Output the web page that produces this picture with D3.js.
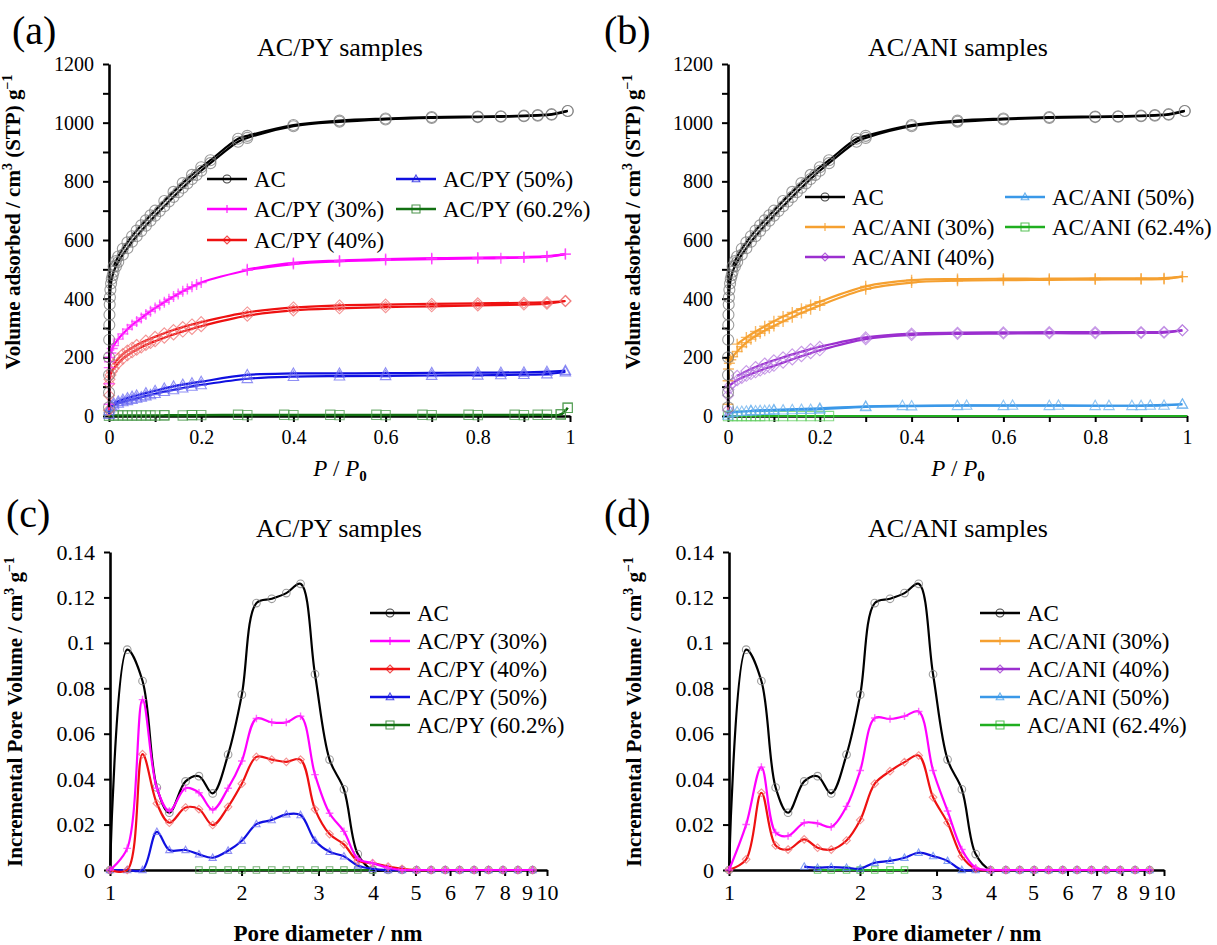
<!DOCTYPE html>
<html>
<head>
<meta charset="utf-8">
<script src="https://cdn.jsdelivr.net/npm/d3@7"></script>
<style>
  body { margin: 0; background: #fff; }
  svg { display: block; }
  svg text, svg tspan { font-family: 'Liberation Serif' !important; }
</style>
</head>
<body>
<script>
// ---------------- N2 isotherms: [P/P0, volume adsorbed] ----------------
const acAds = [[0.00002,30],[0.00005,80],[0.0001,140],[0.0002,200],[0.0004,260],[0.0007,310],[0.001,345],[0.0015,380],[0.002,405],[0.003,430],[0.0045,452],[0.006,468],[0.008,480],[0.01,492],[0.015,510],[0.02,525],[0.03,550],[0.04,572],[0.05,594],[0.06,613],[0.07,631],[0.08,649],[0.09,666],[0.1,683],[0.11,699],[0.12,715],[0.13,731],[0.14,747],[0.15,763],[0.16,778],[0.17,793],[0.18,808],[0.19,822],[0.2,836],[0.22,862],[0.28,935],[0.3,948],[0.4,988],[0.5,1003],[0.6,1011],[0.7,1016],[0.8,1019],[0.85,1020],[0.9,1022],[0.93,1024],[0.96,1027],[0.995,1040]];
const acDes = [[0.995,1040],[0.96,1029],[0.93,1026],[0.9,1024],[0.85,1022],[0.8,1021],[0.7,1019],[0.6,1014],[0.5,1007],[0.4,992],[0.3,955],[0.28,945],[0.22,872],[0.2,848],[0.18,822],[0.16,794],[0.14,764],[0.12,733],[0.1,700],[0.09,684],[0.08,667],[0.07,650],[0.06,632],[0.05,613],[0.04,592],[0.03,570],[0.02,544],[0.015,528],[0.01,510]];

const py30Ads = [[0.00002,40],[0.0001,110],[0.0005,165],[0.001,185],[0.002,200],[0.004,215],[0.007,230],[0.01,240],[0.02,262],[0.03,280],[0.04,296],[0.05,310],[0.06,322],[0.07,334],[0.08,346],[0.09,357],[0.1,368],[0.11,378],[0.12,388],[0.13,398],[0.14,407],[0.15,416],[0.16,425],[0.17,433],[0.18,441],[0.19,448],[0.2,455],[0.3,497],[0.4,518],[0.5,527],[0.6,532],[0.7,535],[0.8,537],[0.85,538],[0.9,540],[0.95,543],[0.99,552]];
const py30Des = [[0.99,552],[0.95,545],[0.9,542],[0.8,540],[0.7,538],[0.6,535],[0.5,530],[0.4,522],[0.3,500]];

const py40Ads = [[0.00002,20],[0.0001,70],[0.0005,110],[0.001,125],[0.003,140],[0.006,152],[0.01,162],[0.02,180],[0.03,195],[0.04,207],[0.05,217],[0.06,226],[0.07,234],[0.08,242],[0.09,249],[0.1,255],[0.12,267],[0.14,278],[0.16,288],[0.18,297],[0.2,306],[0.3,342],[0.4,360],[0.5,367],[0.6,371],[0.7,374],[0.8,377],[0.9,380],[0.95,383],[0.99,392]];
const py40Des = [[0.99,392],[0.95,388],[0.9,386],[0.8,384],[0.7,382],[0.6,380],[0.5,377],[0.4,370],[0.3,353],[0.2,320],[0.18,312],[0.16,303],[0.14,293],[0.12,282],[0.1,270],[0.08,257],[0.06,242],[0.05,233],[0.04,223],[0.03,211],[0.02,196],[0.01,176]];

const py50Ads = [[0.00002,5],[0.0002,18],[0.001,26],[0.005,33],[0.01,37],[0.02,43],[0.03,48],[0.04,52],[0.05,56],[0.06,60],[0.07,64],[0.08,68],[0.09,72],[0.1,76],[0.12,83],[0.14,89],[0.16,95],[0.18,101],[0.2,106],[0.3,127],[0.4,134],[0.5,136],[0.6,137],[0.7,138],[0.8,139],[0.85,140],[0.9,141],[0.95,143],[0.99,150]];
const py50Des = [[0.99,155],[0.95,151],[0.9,149],[0.85,148],[0.8,148],[0.7,147],[0.6,146],[0.5,145],[0.4,145],[0.3,140],[0.2,117],[0.18,112],[0.16,107],[0.14,101],[0.12,94],[0.1,86],[0.08,78],[0.06,70],[0.05,66],[0.04,61],[0.03,56],[0.02,50],[0.01,44]];

const py60Ads = [[0.0001,1],[0.01,2],[0.02,2],[0.03,2],[0.04,2],[0.05,2],[0.06,2],[0.07,2],[0.08,2],[0.09,2],[0.1,2],[0.12,2],[0.16,2],[0.18,3],[0.2,3],[0.3,3],[0.4,3],[0.5,3],[0.6,3],[0.7,3],[0.8,3],[0.9,3],[0.95,4],[0.98,5],[0.995,28]];
const py60Des = [[0.995,28],[0.98,6],[0.93,4],[0.88,4],[0.78,4],[0.68,4],[0.58,4],[0.48,4],[0.38,4],[0.28,4],[0.18,3],[0.12,3]];

const ani30Ads = [[0.00002,40],[0.0002,120],[0.001,160],[0.003,180],[0.006,192],[0.01,202],[0.02,220],[0.03,236],[0.04,250],[0.05,262],[0.06,272],[0.07,282],[0.08,291],[0.09,299],[0.1,307],[0.12,322],[0.14,337],[0.16,351],[0.18,364],[0.2,377],[0.3,432],[0.4,455],[0.5,461],[0.6,463],[0.7,464],[0.8,465],[0.9,466],[0.95,467],[0.99,475]];
const ani30Des = [[0.99,475],[0.95,470],[0.9,469],[0.8,469],[0.7,468],[0.6,468],[0.5,467],[0.4,463],[0.3,442],[0.2,390],[0.18,378],[0.16,366],[0.14,353],[0.12,339],[0.1,323],[0.08,306],[0.06,288],[0.04,268],[0.02,245]];

const ani40Ads = [[0.00002,20],[0.0002,70],[0.001,90],[0.005,105],[0.01,112],[0.02,122],[0.03,130],[0.04,137],[0.05,143],[0.06,149],[0.07,155],[0.08,161],[0.09,166],[0.1,171],[0.12,182],[0.14,193],[0.16,204],[0.18,214],[0.2,224],[0.3,262],[0.4,276],[0.5,280],[0.6,281],[0.7,282],[0.8,282],[0.9,283],[0.95,284],[0.99,292]];
const ani40Des = [[0.99,292],[0.95,287],[0.9,286],[0.8,286],[0.7,286],[0.6,285],[0.5,284],[0.4,281],[0.3,268],[0.2,236],[0.18,228],[0.16,219],[0.14,210],[0.12,200],[0.1,190],[0.08,179],[0.06,167],[0.04,153],[0.02,137]];

const ani50Ads = [[0.00002,2],[0.001,8],[0.01,12],[0.02,14],[0.03,15],[0.04,16],[0.05,17],[0.06,17],[0.07,18],[0.08,18],[0.09,19],[0.1,19],[0.12,20],[0.14,21],[0.16,22],[0.18,22],[0.2,23],[0.3,31],[0.4,34],[0.5,35],[0.6,35],[0.7,35],[0.8,35],[0.9,35],[0.95,36],[0.99,40]];
const ani50Des = [[0.99,40],[0.92,36],[0.88,35],[0.83,35],[0.72,36],[0.62,36],[0.52,36],[0.38,35],[0.3,33],[0.2,26],[0.1,21],[0.05,18]];

const ani62Ads = [[0.0001,0],[0.01,0],[0.02,0],[0.03,0],[0.04,0],[0.05,0],[0.06,0],[0.07,0],[0.08,0],[0.1,0],[0.12,0],[0.14,0],[0.16,0],[0.18,0],[0.2,0],[0.22,0],[0.4,0],[0.6,0],[0.8,0],[1.0,0]];
const ani62Des = [];

// ---------------- Pore size distributions ----------------
const poreDiameters = [1.0,1.095,1.187,1.28,1.367,1.489,1.598,1.718,1.863,2.003,2.163,2.345,2.532,2.729,2.945,3.18,3.43,3.69,3.99,4.33,4.66,5.03,5.43,5.85,6.31,6.81,7.35,7.93,8.58,9.27];
const psdAC    = [0,0.097,0.0832,0.0363,0.0252,0.039,0.0413,0.0337,0.0508,0.0772,0.1175,0.1194,0.1219,0.126,0.0862,0.0486,0.0355,0.007,0,0,0,0,0,0,0,0,0,0,0,0];
const psdPY30  = [0,0.0095,0.075,0.036,0.026,0.036,0.034,0.0265,0.036,0.048,0.0667,0.065,0.065,0.0677,0.042,0.025,0.017,0.005,0.003,0.001,0,0,0,0,0,0,0,0,0,0];
const psdPY40  = [0,0,0.051,0.0293,0.0208,0.0275,0.0268,0.0198,0.0278,0.038,0.0498,0.0486,0.0476,0.0486,0.0267,0.0158,0.0113,0.004,0.003,0.0015,0.0005,0,0,0,0,0,0,0,0,0];
const psdPY50  = [0,0,0,0.0168,0.0088,0.0088,0.0069,0.0054,0.0085,0.0129,0.0202,0.022,0.0245,0.0242,0.013,0.008,0.006,0.002,0.0005,0,0,0,0,0,0,0,0,0,0,0];
const psdPY60  = [null,null,null,null,null,null,0,0,0,0,0,0,0,0,0,0,0,0,0,null,null,null,null,null,null,null,null,null,null,null];
const psdANI30 = [0,0.02,0.0453,0.0165,0.015,0.0208,0.0205,0.019,0.028,0.0438,0.0669,0.0665,0.0677,0.0698,0.0438,0.026,0.009,0.001,0,0,0,0,0,0,0,0,0,0,0,0];
const psdANI40 = [0,0.0047,0.034,0.0108,0.009,0.0135,0.0098,0.009,0.013,0.022,0.038,0.0435,0.0475,0.0504,0.032,0.0208,0.006,0.0005,0,0,0,0,0,0,0,0,0,0,0,0];
const psdANI50 = [null,null,null,null,null,0.0015,0.001,0.0013,0.001,0.0006,0.0032,0.004,0.0054,0.0076,0.0061,0.004,0,0,0,0,0,0,0,0,0,0,0,0,0,0];
const psdANI62 = [null,null,null,null,null,null,0,0,0,0,0,0,0,null,null,null,null,null,null,null,null,null,null,null,null,null,null,null,null,null];

// ---------------- Axis ticks ----------------
const isoXTicks = [0,0.1,0.2,0.3,0.4,0.5,0.6,0.7,0.8,0.9,1];
const isoXLabels = ["0","","0.2","","0.4","","0.6","","0.8","","1"];
const isoYTicks = [0,100,200,300,400,500,600,700,800,900,1000,1100,1200];
const isoYLabels = ["0","","200","","400","","600","","800","","1000","","1200"];
const psdXTicks = [1,2,3,4,5,6,7,8,9,10];
const psdXLabels = ["1","2","3","4","5","6","7","8","9","10"];
const psdYTicks = [0,0.02,0.04,0.06,0.08,0.1,0.12,0.14];
const psdYLabels = ["0","0.02","0.04","0.06","0.08","0.1","0.12","0.14"];

// ---------------- Series names ----------------
const pyNames  = ["AC","AC/PY (30%)","AC/PY (40%)","AC/PY (50%)","AC/PY (60.2%)"];
const aniNames = ["AC","AC/ANI (30%)","AC/ANI (40%)","AC/ANI (50%)","AC/ANI (62.4%)"];

// ---------------- Drawing ----------------
const FONT_STYLE = "font-family:'Liberation Serif'";
const W = 1217, H = 945;
const svg = d3.select("body").append("svg")
  .attr("width", W).attr("height", H).attr("viewBox", `0 0 ${W} ${H}`)
  .attr("style", FONT_STYLE);

function txt(x, y, size) {
  return svg.append("text").attr("x", x).attr("y", y)
    .attr("style", FONT_STYLE).attr("font-size", size).attr("fill", "#000");
}

function markerPath(shape, s) {
  switch (shape) {
    case "circle":   return `M${s},0A${s},${s} 0 1,1 ${-s},0A${s},${s} 0 1,1 ${s},0Z`;
    case "diamond":  return `M0,${-s}L${s},0L0,${s}L${-s},0Z`;
    case "triangle": return `M0,${-s}L${s*0.95},${s*0.7}L${-s*0.95},${s*0.7}Z`;
    case "square":   return `M${-s},${-s}H${s}V${s}H${-s}Z`;
    case "plus":     return `M${-s},0H${s}M0,${-s}V${s}`;
  }
}

function drawMarkers(g, pts, st, size) {
  g.selectAll(null).data(pts).enter().append("path")
    .attr("transform", d => `translate(${d[0]},${d[1]})`)
    .attr("d", markerPath(st.shape, size * (st.scale || 1)))
    .attr("fill", "none")
    .attr("stroke", st.mcolor)
    .attr("stroke-width", st.shape === "plus" ? 1.4 : 1.1)
    .attr("stroke-opacity", 0.75);
}

function panelLetter(x, y, s) { txt(x, y, 40).text(s); }
function panelTitle(x, y, s) { txt(x, y, 26).attr("text-anchor", "middle").text(s); }

function yLabel(cx, cy, main, mid) {
  const t = svg.append("text")
    .attr("transform", `translate(${cx},${cy}) rotate(-90)`)
    .attr("style", FONT_STYLE)
    .attr("text-anchor", "middle").attr("font-weight", "bold").attr("font-size", 21);
  t.append("tspan").text(main);
  t.append("tspan").attr("dy", -8).attr("font-size", 14).text("3");
  t.append("tspan").attr("dy", 8).text(mid);
  t.append("tspan").attr("dy", -8).attr("font-size", 14).text("\u22121");
}

function ppLabel(x, y) {
  const t = txt(x, y, 23).attr("text-anchor", "middle");
  t.append("tspan").attr("font-style", "italic").text("P");
  t.append("tspan").text(" / ");
  t.append("tspan").attr("font-style", "italic").text("P");
  t.append("tspan").attr("dy", 5).attr("font-size", 15).attr("font-weight", "bold").text("0");
}

function axes(g, x, y, xt, xl, yt, yl, fs) {
  const ax = g.append("g").attr("transform", `translate(0,${y.range()[0]})`)
    .call(d3.axisBottom(x).tickValues(xt).tickFormat((d, i) => xl[i]).tickSize(6).tickSizeOuter(0).tickPadding(8));
  const ay = g.append("g").attr("transform", `translate(${x.range()[0]},0)`)
    .call(d3.axisLeft(y).tickValues(yt).tickFormat((d, i) => yl[i]).tickSize(6).tickSizeOuter(0).tickPadding(9));
  [ax, ay].forEach(a => {
    a.attr("font-family", null).attr("style", FONT_STYLE).attr("font-size", fs);
    a.select(".domain").attr("stroke", "#000").attr("stroke-width", 2.6);
    a.selectAll(".tick line").attr("stroke", "#000").attr("stroke-width", 2);
    a.selectAll(".tick text").attr("style", FONT_STYLE).attr("font-size", fs).attr("fill", "#000");
  });
}

function legend(items, fs) {
  items.forEach(it => {
    const g = svg.append("g");
    g.append("line").attr("x1", it.x).attr("x2", it.x + 40).attr("y1", it.y).attr("y2", it.y)
      .attr("stroke", it.st.lcolor).attr("stroke-width", 2.5);
    drawMarkers(g, [[it.x + 20, it.y]], { shape: it.st.shape, mcolor: it.st.legendMarker || it.st.lcolor }, 4);
    g.append("text").attr("x", it.x + 47).attr("y", it.y).attr("dy", "0.35em")
      .attr("style", FONT_STYLE).attr("font-size", fs).attr("fill", "#000").text(it.name);
  });
}

// ---- isotherm panel ----
function isoPanel(box, series) {
  const x = d3.scaleLinear().domain([0, 1]).range([box.x0, box.x1]);
  const y = d3.scaleLinear().domain([0, 1200]).range([box.y0, box.y1]);
  const g = svg.append("g");
  axes(g, x, y, isoXTicks, isoXLabels, isoYTicks, isoYLabels, 20);
  const line = d3.line().x(d => x(d[0])).y(d => y(d[1])).curve(d3.curveCatmullRom.alpha(0.5));
  series.forEach(s => {
    const sg = g.append("g");
    [s.ads, s.des].forEach(br => {
      if (!br.length) return;
      sg.append("path").attr("d", line(br)).attr("fill", "none")
        .attr("stroke", s.st.lcolor).attr("stroke-width", 2.2);
    });
    const pts = (s.markAds || s.ads).concat(s.des).map(d => [x(d[0]), y(d[1])]);
    drawMarkers(sg, pts, s.st, 5.5);
  });
}

// ---- pore size distribution panel ----
function psdPanel(box, series) {
  const x = d3.scaleLog().domain([1, 10]).range([box.x0, box.x1]);
  const y = d3.scaleLinear().domain([0, 0.14]).range([box.y0, box.y1]);
  const g = svg.append("g");
  axes(g, x, y, psdXTicks, psdXLabels, psdYTicks, psdYLabels, 22);
  const line = d3.line().defined(d => d[1] !== null)
    .x(d => x(d[0])).y(d => y(d[1])).curve(d3.curveCatmullRom.alpha(0.5));
  series.forEach(s => {
    const data = poreDiameters.map((d, i) => [d, s.v[i]]);
    const sg = g.append("g");
    sg.append("path").attr("d", line(data)).attr("fill", "none")
      .attr("stroke", s.st.lcolor).attr("stroke-width", 2.2);
    const pts = data.filter(d => d[1] !== null).map(d => [x(d[0]), y(d[1])]);
    drawMarkers(sg, pts, s.st, 3.8);
  });
}

// series styles
const stAC    = { shape: "circle",   lcolor: "#000000", mcolor: "#7a7a7a" };
const stPY30  = { shape: "plus",     lcolor: "#ff00ff", mcolor: "#ff33ff" };
const stPY40  = { shape: "diamond",  lcolor: "#ee1111", mcolor: "#f07070", legendMarker: "#ee1111" };
const stPY50  = { shape: "triangle", lcolor: "#1010e0", mcolor: "#6a6af0", legendMarker: "#1010e0" };
const stPY60  = { shape: "square",   lcolor: "#127012", mcolor: "#4c9a4c", scale: 0.85, legendMarker: "#127012" };
const stANI30 = { shape: "plus",     lcolor: "#f5a030", mcolor: "#f5a030" };
const stANI40 = { shape: "diamond",  lcolor: "#9b2fcf", mcolor: "#b57adf", legendMarker: "#9b2fcf" };
const stANI50 = { shape: "triangle", lcolor: "#3a98e8", mcolor: "#6ab0ee", legendMarker: "#3a98e8" };
const stANI62 = { shape: "square",   lcolor: "#1fae1f", mcolor: "#5ccc5c", scale: 0.85, legendMarker: "#1fae1f" };

// (a) AC/PY isotherms
isoPanel({ x0: 109, x1: 570, y0: 416, y1: 64 }, [
  { ads: py60Ads, des: py60Des, st: stPY60 },
  { ads: py50Ads, des: py50Des, st: stPY50 },
  { ads: py40Ads, des: py40Des, st: stPY40 },
  { ads: py30Ads, des: py30Des, st: stPY30 },
  { ads: acAds,   des: acDes,   st: stAC }
]);
panelLetter(12, 44, "(a)");
panelTitle(340, 56, "AC/PY samples");
yLabel(20, 222, "Volume adsorbed / cm", " (STP) g");
ppLabel(340, 476);
legend([
  { x: 207, y: 179, name: pyNames[0], st: stAC },
  { x: 207, y: 209, name: pyNames[1], st: stPY30 },
  { x: 207, y: 240, name: pyNames[2], st: stPY40 },
  { x: 396, y: 179, name: pyNames[3], st: stPY50 },
  { x: 396, y: 209, name: pyNames[4], st: stPY60 }
], 23);

// (b) AC/ANI isotherms
isoPanel({ x0: 728, x1: 1187, y0: 416, y1: 64 }, [
  { ads: ani62Ads, des: ani62Des, st: stANI62, markAds: ani62Ads.filter(d => d[0] <= 0.22) },
  { ads: ani50Ads, des: ani50Des, st: stANI50 },
  { ads: ani40Ads, des: ani40Des, st: stANI40 },
  { ads: ani30Ads, des: ani30Des, st: stANI30 },
  { ads: acAds,    des: acDes,    st: stAC }
]);
panelLetter(604, 44, "(b)");
panelTitle(958, 56, "AC/ANI samples");
yLabel(640, 222, "Volume adsorbed / cm", " (STP) g");
ppLabel(958, 476);
legend([
  { x: 805, y: 197, name: aniNames[0], st: stAC },
  { x: 805, y: 227, name: aniNames[1], st: stANI30 },
  { x: 805, y: 257, name: aniNames[2], st: stANI40 },
  { x: 1005, y: 197, name: aniNames[3], st: stANI50 },
  { x: 1005, y: 227, name: aniNames[4], st: stANI62 }
], 23);

// (c) AC/PY pore size distributions
psdPanel({ x0: 110, x1: 547, y0: 870, y1: 552 }, [
  { v: psdAC,   st: stAC },
  { v: psdPY60, st: stPY60 },
  { v: psdPY50, st: stPY50 },
  { v: psdPY40, st: stPY40 },
  { v: psdPY30, st: stPY30 }
]);
panelLetter(6, 527, "(c)");
panelTitle(339, 537, "AC/PY samples");
yLabel(22, 712, "Incremental Pore Volume / cm", " g");
txt(328, 941, 23).attr("text-anchor", "middle").attr("font-weight", "bold").text("Pore diameter / nm");
legend([
  { x: 370, y: 613, name: pyNames[0], st: stAC },
  { x: 370, y: 641, name: pyNames[1], st: stPY30 },
  { x: 370, y: 669, name: pyNames[2], st: stPY40 },
  { x: 370, y: 697, name: pyNames[3], st: stPY50 },
  { x: 370, y: 725, name: pyNames[4], st: stPY60 }
], 23);

// (d) AC/ANI pore size distributions: curves keep the PY palette, legend keys use the ANI palette
psdPanel({ x0: 729, x1: 1164, y0: 870, y1: 552 }, [
  { v: psdAC,    st: stAC },
  { v: psdANI62, st: { shape: "square",   lcolor: "#1fae1f", mcolor: "#40c040", scale: 0.85 } },
  { v: psdANI50, st: { shape: "triangle", lcolor: "#1010e0", mcolor: "#5a80f0" } },
  { v: psdANI40, st: stPY40 },
  { v: psdANI30, st: stPY30 }
]);
panelLetter(604, 527, "(d)");
panelTitle(958, 537, "AC/ANI samples");
yLabel(641, 712, "Incremental Pore Volume / cm", " g");
txt(947, 941, 23).attr("text-anchor", "middle").attr("font-weight", "bold").text("Pore diameter / nm");
legend([
  { x: 980, y: 613, name: aniNames[0], st: stAC },
  { x: 980, y: 641, name: aniNames[1], st: stANI30 },
  { x: 980, y: 669, name: aniNames[2], st: stANI40 },
  { x: 980, y: 697, name: aniNames[3], st: stANI50 },
  { x: 980, y: 725, name: aniNames[4], st: stANI62 }
], 23);
</script>
</body>
</html>
